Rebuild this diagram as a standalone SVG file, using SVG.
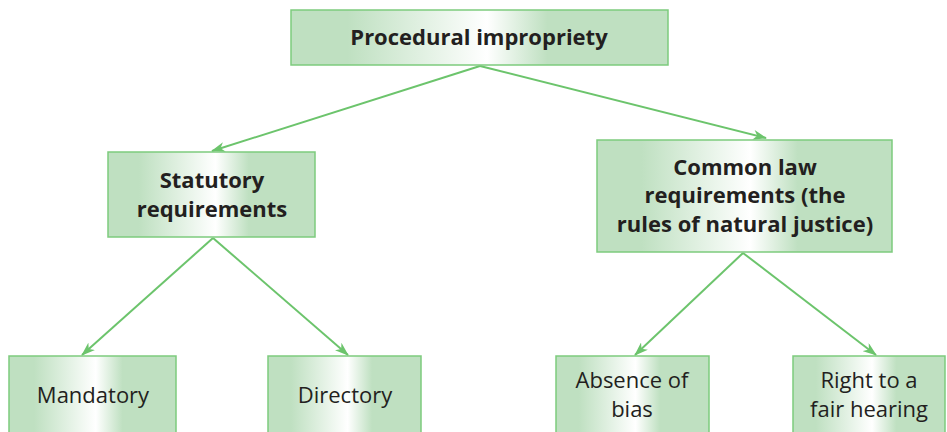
<svg xmlns="http://www.w3.org/2000/svg" width="947" height="432" viewBox="0 0 947 432">
  <defs>
    <linearGradient id="boxFill" x1="0" y1="0" x2="1" y2="0">
      <stop offset="0" stop-color="#bfe0c1"/>
      <stop offset="0.15" stop-color="#bfe0c1"/>
      <stop offset="0.52" stop-color="#ffffff"/>
      <stop offset="0.68" stop-color="#bfe0c1"/>
      <stop offset="1" stop-color="#bfe0c1"/>
    </linearGradient>
    <marker id="arrow" viewBox="0 0 14 10" refX="13" refY="5" markerWidth="14" markerHeight="10" markerUnits="userSpaceOnUse" orient="auto">
      <path d="M0,0 L14,5 L0,10 L4,5 Z" fill="#6cc46c"/>
    </marker>
  </defs>
  <style>
    .box { fill: url(#boxFill); stroke: #7dcb7d; stroke-width: 1.5; }
    .title { font-family: "Open Sans", "Noto Sans", sans-serif; font-weight: bold; font-size: 22px; fill: #231f20; text-anchor: middle; }
    .leaf { font-family: "Open Sans", "Noto Sans", sans-serif; font-size: 22px; fill: #231f20; text-anchor: middle; }
    .conn { stroke: #6cc46c; stroke-width: 2; fill: none; marker-end: url(#arrow); }
  </style>
  <rect width="947" height="432" fill="#ffffff"/>

  <g id="connectors">
    <line class="conn" x1="480" y1="66" x2="212" y2="151"/>
    <line class="conn" x1="480" y1="66" x2="766" y2="138"/>
    <line class="conn" x1="213" y1="238" x2="82" y2="355"/>
    <line class="conn" x1="213" y1="238" x2="348" y2="355"/>
    <line class="conn" x1="743" y1="253" x2="635" y2="355"/>
    <line class="conn" x1="743" y1="253" x2="876" y2="355"/>
  </g>

  <g id="procedural-impropriety">
    <rect class="box" x="291" y="10" width="377" height="55"/>
    <text class="title" x="479" y="45">Procedural impropriety</text>
  </g>

  <g id="statutory-requirements">
    <rect class="box" x="108" y="152" width="207" height="85"/>
    <text class="title" x="212" y="188">Statutory</text>
    <text class="title" x="212" y="217">requirements</text>
  </g>

  <g id="common-law-requirements">
    <rect class="box" x="597" y="140" width="295" height="112"/>
    <text class="title" x="745" y="175">Common law</text>
    <text class="title" x="745" y="203">requirements (the</text>
    <text class="title" x="745" y="232">rules of natural justice)</text>
  </g>

  <g id="mandatory">
    <rect class="box" x="9" y="356" width="167" height="90"/>
    <text class="leaf" x="93" y="403">Mandatory</text>
  </g>

  <g id="directory">
    <rect class="box" x="268" y="356" width="153" height="90"/>
    <text class="leaf" x="345" y="403">Directory</text>
  </g>

  <g id="absence-of-bias">
    <rect class="box" x="556" y="356" width="153" height="90"/>
    <text class="leaf" x="632" y="388">Absence of</text>
    <text class="leaf" x="632" y="417">bias</text>
  </g>

  <g id="right-to-fair-hearing">
    <rect class="box" x="793" y="356" width="152" height="90"/>
    <text class="leaf" x="869" y="388">Right to a</text>
    <text class="leaf" x="869" y="417">fair hearing</text>
  </g>
</svg>
